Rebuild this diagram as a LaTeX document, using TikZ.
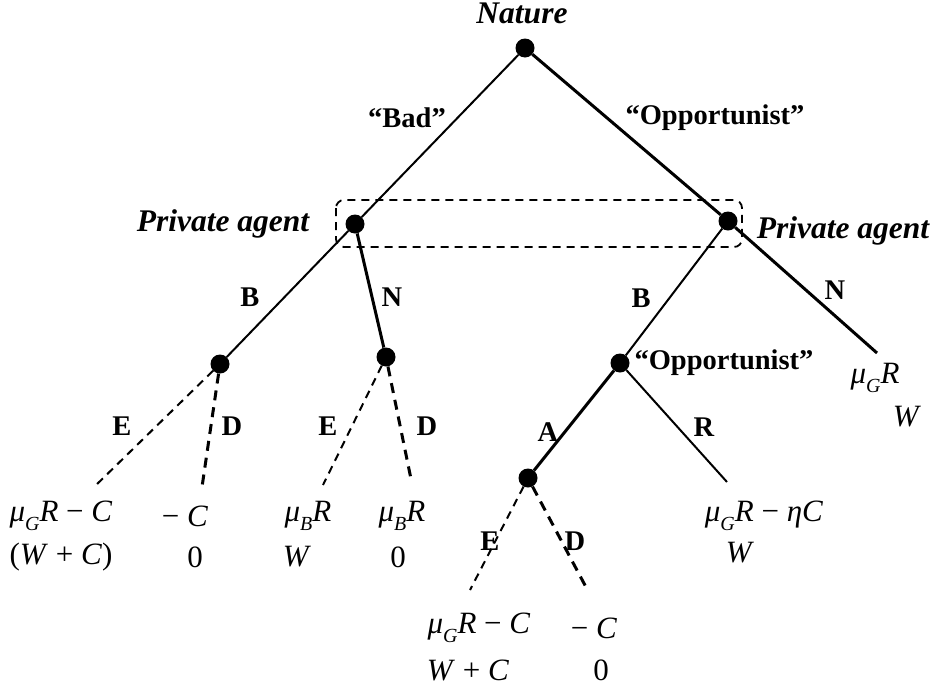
\documentclass[tikz,border=0pt]{standalone}
\usepackage{fontspec}
\setmainfont{Liberation Serif}
\newcommand{\pay}[1]{\textit{#1}}
\newcommand{\sbG}{\raisebox{-0.28em}{\fontsize{20}{20}\selectfont\itshape G}}
\newcommand{\sbB}{\raisebox{-0.28em}{\fontsize{20}{20}\selectfont\itshape B}}
\begin{document}
\begin{tikzpicture}[x=1pt,y=-1pt,
  dot/.style={circle,fill=black,inner sep=0pt,minimum size=19pt},
  thin/.style={line width=2pt},
  thick/.style={line width=3pt},
  dthin/.style={line width=2pt,dash pattern=on 8pt off 6pt},
  dthick/.style={line width=3pt,dash pattern=on 10pt off 7pt},
  lab/.style={font=\fontsize{28.5}{32}\selectfont\bfseries,inner sep=0pt},
  ilab/.style={font=\fontsize{31.5}{34}\selectfont\bfseries\itshape,inner sep=0pt},
  payf/.style={font=\fontsize{31}{34}\selectfont,inner sep=0pt}]
\useasboundingbox (0,0) rectangle (938,691);
% decision nodes
\node[dot] (nat) at (525,48) {};
\node[dot] (pa1) at (355,224) {};
\node[dot] (pa2) at (728,221) {};
\node[dot] (b1) at (220,364) {};
\node[dot] (n1) at (386,357) {};
\node[dot] (op) at (620,363) {};
\node[dot] (a1) at (528,478) {};
% terminal ends
\coordinate (e1) at (93,488);
\coordinate (d1) at (202,487);
\coordinate (e2) at (323,485);
\coordinate (d2) at (411,479);
\coordinate (nend) at (877,353);
\coordinate (rend) at (727,482);
\coordinate (e3) at (470,590);
\coordinate (d3) at (587,589);
% information set
\draw[line width=1.8pt,dash pattern=on 8pt off 6pt,rounded corners=8pt] (336,200) rectangle (742,247);
% edges
\draw[thin] (nat) -- (pa1);
\draw[thick] (nat) -- (pa2);
\draw[thin] (pa1) -- (b1);
\draw[thick] (pa1) -- (n1);
\draw[thin] (pa2) -- (op);
\draw[thick] (pa2) -- (nend);
\draw[thick] (op) -- (a1);
\draw[thin] (op) -- (rend);
\draw[dthin] (b1) -- (e1);
\draw[dthick] (b1) -- (d1);
\draw[dthin] (n1) -- (e2);
\draw[dthick] (n1) -- (d2);
\draw[dthin] (a1) -- (e3);
\draw[dthick] (a1) -- (d3);
% player labels
\node[ilab] (lnat) at (522,13) {Nature};
\node[ilab] (lpa1) at (223,224) {Private agent};
\node[ilab] (lpa2) at (843,231) {Private agent};
\node[lab] (lop) at (724,363) {“Opportunist”};
% action labels
\node[lab] (lbad) at (407,118) {“Bad”};
\node[lab] (lopp) at (715,118) {“Opportunist”};
\node[lab] (lb1) at (250,297) {B};
\node[lab] (ln1) at (392,297) {N};
\node[lab] (lb2) at (641,298) {B};
\node[lab] (ln2) at (835,290) {N};
\node[lab] (le1) at (122,426) {E};
\node[lab] (ld1) at (232,426) {D};
\node[lab] (le2) at (328,426) {E};
\node[lab] (ld2) at (427,426) {D};
\node[lab] (la) at (548,432) {A};
\node[lab] (lr) at (704,427) {R};
\node[lab] (le3) at (490,541) {E};
\node[lab] (ld3) at (575,541) {D};
% payoffs
\node[payf] (p1a) at (61,516) {\pay{μ}\sbG\pay{R} − \pay{C}};
\node[payf] (p1b) at (61,557) {(\pay{W} + \pay{C})};
\node[payf] (p2a) at (185,516) {− \pay{C}};
\node[payf] (p2b) at (195,557) {0};
\node[payf] (p3a) at (308,516) {\pay{μ}\sbB\pay{R}};
\node[payf] (p3b) at (297,557) {\pay{W}};
\node[payf] (p4a) at (402,516) {\pay{μ}\sbB\pay{R}};
\node[payf] (p4b) at (398,557) {0};
\node[payf] (p5a) at (479,628) {\pay{μ}\sbG\pay{R} − \pay{C}};
\node[payf] (p5b) at (468,670) {\pay{W} + \pay{C}};
\node[payf] (p6a) at (594,628) {− \pay{C}};
\node[payf] (p6b) at (601,670) {0};
\node[payf] (p7a) at (764,516) {\pay{μ}\sbG\pay{R} − \pay{ηC}};
\node[payf] (p7b) at (740,553) {\pay{W}};
\node[payf] (p8a) at (875,378) {\pay{μ}\sbG\pay{R}};
\node[payf] (p8b) at (907,417) {\pay{W}};
\end{tikzpicture}
\end{document}
